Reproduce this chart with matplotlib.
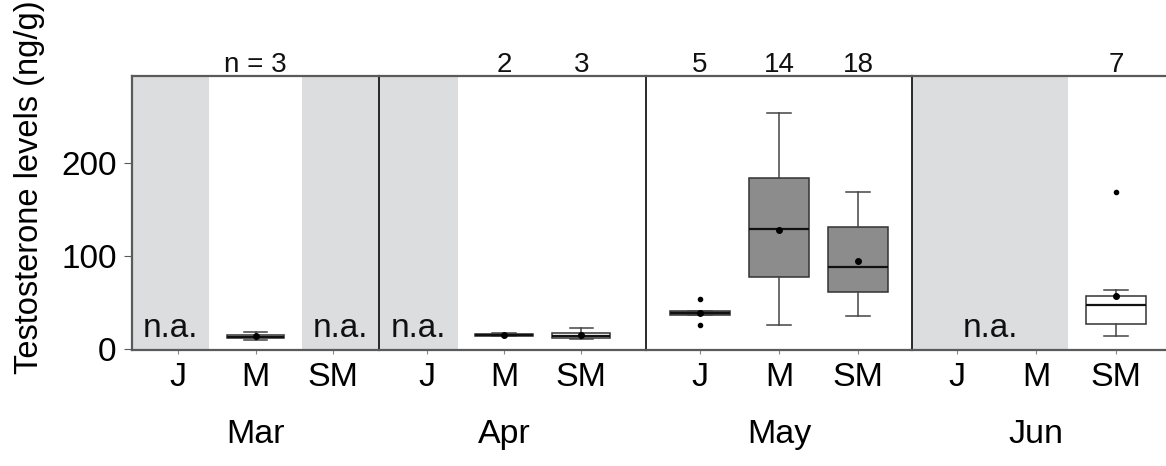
import matplotlib
matplotlib.use("Agg")
import matplotlib.pyplot as plt

plt.rcParams['font.family'] = ['Liberation Sans', 'DejaVu Sans']

months = ["Mar", "Apr", "May", "Jun"]
groups = ["J", "M", "SM"]

# sample sizes printed above each box ("" = none)
n_labels = {
    "Mar": ["", "n = 3", ""],
    "Apr": ["", "2", "3"],
    "May": ["5", "14", "18"],
    "Jun": ["", "", "7"],
}

# groups with no data (n.a.)
missing = {
    "Mar": ["J", "SM"],
    "Apr": ["J"],
    "May": [],
    "Jun": ["J", "M"],
}

# box statistics (ng/g)
box_month = ["Mar", "Apr", "Apr", "May", "May", "May", "Jun"]
box_group = ["M", "M", "SM", "J", "M", "SM", "SM"]
box_lo = [10, 14, 11, 37, 26, 35, 14.5]
box_q1 = [11.5, 14.5, 11.5, 37, 77.5, 61, 27]
box_med = [13, 15.5, 14, 39, 129, 88, 47.5]
box_q3 = [15.5, 16.5, 17, 41, 184.5, 131.5, 57.5]
box_hi = [18, 17, 22.5, 41, 254, 169, 64]
box_mean = [14, 15.5, 15.5, 39, 128, 95, 57]
box_fliers = [[], [], [], [54, 25.5], [], [], [169.5]]
box_gray = [False, True, False, True, True, True, False]

# layout (pixels) of the four panels
W, H = 1166, 466
edges = [132, 379, 646, 912, 1166]
ax_top, ax_bot = 76, 350
xlims = [(-0.6, 2.6), (-0.62, 2.84), (-0.68, 2.68), (-0.56, 2.63)]

fig = plt.figure(figsize=(W / 100, H / 100), dpi=100)

frame_col = "#5a5a5a"
band_col = "#dcdddf"
fill_col = "#8c8c8c"

for i, m in enumerate(months):
    rect = [edges[i] / W, 1 - ax_bot / H, (edges[i + 1] - edges[i]) / W, (ax_bot - ax_top) / H]
    ax = fig.add_axes(rect)
    ax.set_xlim(*xlims[i])
    ax.set_ylim(-1.1, 294)
    left, right = xlims[i]

    # grey bands for missing groups
    idx = [groups.index(g) for g in missing[m]]
    runs = []
    for g in idx:
        if runs and runs[-1][1] == g - 1:
            runs[-1][1] = g
        else:
            runs.append([g, g])
    for a, b in runs:
        x0 = left if a == 0 else a - 0.4
        x1 = right if b == 2 else b + 0.4
        ax.axvspan(x0, x1, color=band_col, lw=0, zorder=0)
        ax.text((x0 + x1) / 2, 13, "n.a.", ha="center", va="baseline", fontsize=24, color="#111111")

    # boxes
    for k in range(len(box_month)):
        if box_month[k] != m:
            continue
        pos = groups.index(box_group[k])
        stats = [dict(whislo=box_lo[k], q1=box_q1[k], med=box_med[k], q3=box_q3[k],
                      whishi=box_hi[k], mean=box_mean[k], fliers=box_fliers[k])]
        ax.bxp(stats, positions=[pos], widths=0.75, capwidths=0.3, patch_artist=True,
               showmeans=True,
               boxprops=dict(facecolor=fill_col if box_gray[k] else "white", edgecolor="#333333", linewidth=1.1),
               whiskerprops=dict(color="#444444", linewidth=1.1),
               capprops=dict(color="#444444", linewidth=1.1),
               medianprops=dict(color="#111111", linewidth=1.6),
               meanprops=dict(marker="o", markerfacecolor="black", markeredgecolor="black", markersize=4),
               flierprops=dict(marker="o", markerfacecolor="black", markeredgecolor="black", markersize=3))

    # n above the panel
    for j, lab in enumerate(n_labels[m]):
        if lab:
            ax.annotate(lab, xy=(j, 1), xycoords=("data", "axes fraction"), xytext=(0, 3),
                        textcoords="offset points", ha="center", va="baseline", fontsize=20, color="#111111")

    ax.set_xticks(range(len(groups)))
    ax.set_xticklabels(groups, fontsize=24.5)
    ax.tick_params(axis="x", length=3, color="#888888", pad=6)
    ax.text(1, -0.34, m, transform=ax.get_xaxis_transform(), ha="center", va="baseline", fontsize=24.5)

    for s in ["top", "bottom"]:
        ax.spines[s].set_color(frame_col)
        ax.spines[s].set_linewidth(1.6)
    ax.spines["right"].set_visible(False)
    if i == 0:
        ax.spines["left"].set_color(frame_col)
        ax.spines["left"].set_linewidth(1.6)
        ax.set_yticks([0, 100, 200])
        ax.tick_params(axis="y", labelsize=24, length=6, color=frame_col, pad=5)
    else:
        ax.spines["left"].set_color("#1a1a1a")
        ax.spines["left"].set_linewidth(1.3)
        ax.set_yticks([])

fig.text(30 / W, 1 - 187 / H, "Testosterone levels (ng/g)", rotation=90, ha="center", va="center", fontsize=23.5)

fig.savefig("out.png", dpi=100)
